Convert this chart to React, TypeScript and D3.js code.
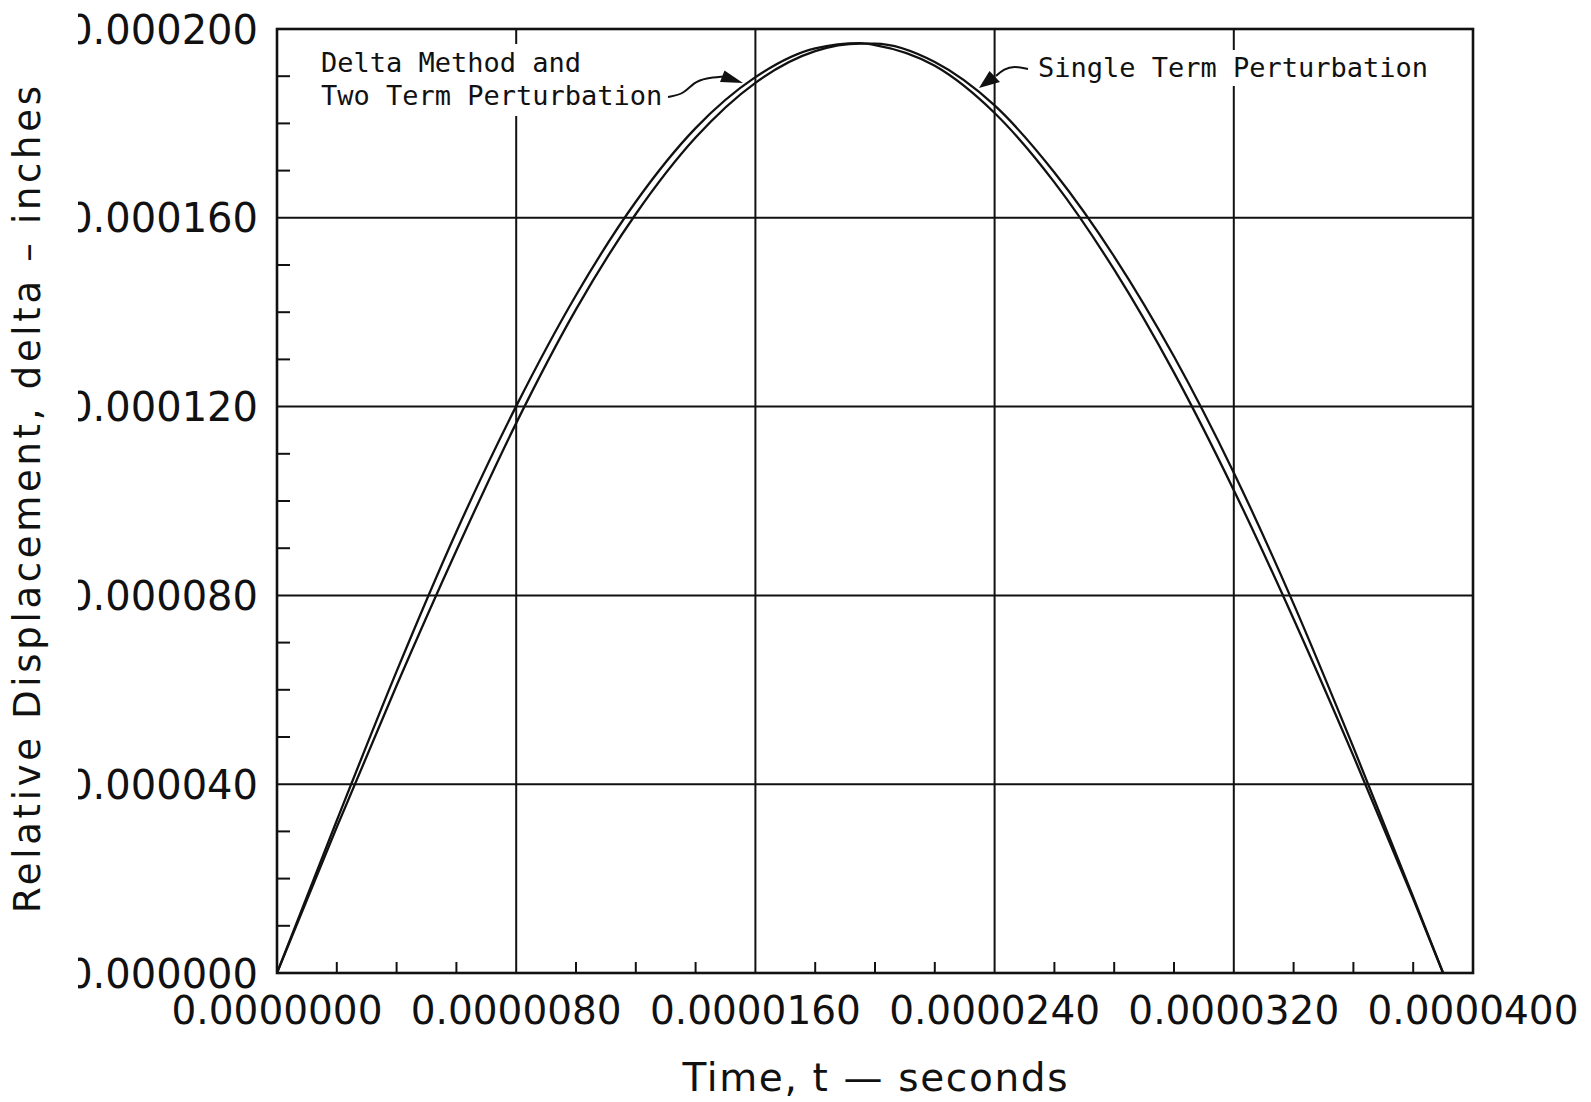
import React from "react";
import * as d3 from "d3";

// time in seconds
const timeS = [0, 2e-6, 4e-6, 6e-6, 8e-6, 10e-6, 12e-6, 14e-6, 16e-6, 18e-6, 19.5e-6, 20e-6, 22e-6, 24e-6, 26e-6, 28e-6, 30e-6, 32e-6, 34e-6, 36e-6, 38e-6, 39e-6];
// relative displacement in inches
const deltaMethod = [0, 32.3e-6, 63.9e-6, 93.5e-6, 120.1e-6, 143.6e-6, 163.4e-6, 179.0e-6, 189.8e-6, 195.9e-6, 197.0e-6, 196.6e-6, 192.2e-6, 182.2e-6, 167.5e-6, 149.0e-6, 127.2e-6, 102.3e-6, 75.0e-6, 46.0e-6, 15.7e-6, 0];
const singleTerm = [0, 30.9e-6, 60.9e-6, 89.5e-6, 116.5e-6, 140.6e-6, 160.8e-6, 177.0e-6, 188.6e-6, 195.3e-6, 196.9e-6, 196.9e-6, 193.0e-6, 183.8e-6, 169.6e-6, 151.8e-6, 130.6e-6, 106.0e-6, 78.2e-6, 47.8e-6, 16.1e-6, 0];

const xMajorTicks = [0, 0.000008, 0.000016, 0.000024, 0.000032, 0.00004];
const yMajorTicks = [0, 0.00004, 0.00008, 0.00012, 0.00016, 0.0002];
const xLabel = "Time, t \u2014 seconds";
const yLabel = "Relative Displacement, delta \u2013 inches";
const deltaText = ["Delta Method and", "Two Term Perturbation"];
const singleText = "Single Term Perturbation";

const W = 1591, H = 1102;
const L = 277, R = 1473, T = 29, B = 973;

export default function App() {
  const x = d3.scaleLinear().domain([0, 0.00004]).range([L, R]);
  const y = d3.scaleLinear().domain([0, 0.0002]).range([B, T]);
  const line = d3
    .line<number>()
    .x((_, i) => x(timeS[i]))
    .y((d) => y(d))
    .curve(d3.curveMonotoneX);

  const xMinor = d3.range(1, 20).map((i) => i * 2e-6).filter((_, i) => (i + 1) % 4 !== 0);
  const yMinor = d3.range(1, 20).map((i) => i * 1e-5).filter((_, i) => (i + 1) % 4 !== 0);
  const fx = d3.format(".7f");
  const fy = d3.format(".6f");
  const ink = "#111";
  const mono = "'DejaVu Sans Mono', monospace";
  const sans = "'DejaVu Sans', sans-serif";
  const adv = 16.26;

  const leader = d3.line<[number, number]>().curve(d3.curveBasis);
  const deltaLead: [number, number][] = [[668, 97], [684, 94], [694, 82], [706, 78], [724, 76.5]];
  const singleLead: [number, number][] = [[1028, 69], [1014, 66], [1004, 69], [996, 76]];

  return (
    <svg width={W} height={H} style={{ position: "absolute", left: 0, top: 0, background: "#fff" }}>
      <defs>
        <clipPath id="ylabclip">
          <rect x={78} y={0} width={W} height={H} />
        </clipPath>
      </defs>
      <rect x={0} y={0} width={W} height={H} fill="#fff" />
      {/* grid */}
      {xMajorTicks.slice(1, -1).map((t) => (
        <line key={"gx" + t} x1={x(t)} x2={x(t)} y1={T} y2={B} stroke={ink} strokeWidth={2} />
      ))}
      {yMajorTicks.slice(1, -1).map((v) => (
        <line key={"gy" + v} x1={L} x2={R} y1={y(v)} y2={y(v)} stroke={ink} strokeWidth={2} />
      ))}
      {/* minor ticks */}
      {xMinor.map((t) => (
        <line key={"mx" + t} x1={x(t)} x2={x(t)} y1={B} y2={B - 11} stroke={ink} strokeWidth={2} />
      ))}
      {yMinor.map((v) => (
        <line key={"my" + v} x1={L} x2={L + 13} y1={y(v)} y2={y(v)} stroke={ink} strokeWidth={2} />
      ))}
      {/* text knockouts */}
      <rect x={316} y={44} width={deltaText[1].length * adv + 10} height={72} fill="#fff" />
      <rect x={1033} y={50} width={singleText.length * adv + 10} height={36} fill="#fff" />
      {/* curves */}
      <path d={line(deltaMethod) || ""} fill="none" stroke={ink} strokeWidth={2.3} />
      <path d={line(singleTerm) || ""} fill="none" stroke={ink} strokeWidth={2.3} />
      {/* frame */}
      <rect x={L} y={T} width={R - L} height={B - T} fill="none" stroke={ink} strokeWidth={2.6} />
      {/* annotations */}
      <text fontFamily={mono} fontSize={27} fill={ink}>
        <tspan x={321} y={71.5}>{deltaText[0]}</tspan>
        <tspan x={321} y={105}>{deltaText[1]}</tspan>
      </text>
      <text x={1038} y={77} fontFamily={mono} fontSize={27} fill={ink}>{singleText}</text>
      <path d={leader(deltaLead) || ""} fill="none" stroke={ink} strokeWidth={2} />
      <polygon points="743,83 720,82 724.5,70.5" fill={ink} />
      <path d={leader(singleLead) || ""} fill="none" stroke={ink} strokeWidth={2} />
      <polygon points="979,88 989.5,71 1000,82" fill={ink} />
      {/* y tick labels */}
      <g clipPath="url(#ylabclip)">
        {yMajorTicks.map((v) => (
          <text key={"yl" + v} x={258} y={y(v) + 14.5} textAnchor="end" fontFamily={sans} fontSize={40} fill={ink}>
            {fy(v)}
          </text>
        ))}
      </g>
      {/* x tick labels */}
      {xMajorTicks.map((t) => (
        <text key={"xl" + t} x={x(t)} y={1024} textAnchor="middle" fontFamily={sans} fontSize={39} fill={ink}>
          {fx(t)}
        </text>
      ))}
      {/* axis titles */}
      <text x={(L + R) / 2} y={1091} textAnchor="middle" fontFamily={sans} fontSize={39} fill={ink} textLength={385} lengthAdjust="spacing">
        {xLabel}
      </text>
      <text
        transform={`translate(${40},${(86 + 913) / 2}) rotate(-90)`}
        textAnchor="middle"
        fontFamily={sans}
        fontSize={37}
        fill={ink}
        textLength={827}
        lengthAdjust="spacing"
      >
        {yLabel}
      </text>
    </svg>
  );
}
